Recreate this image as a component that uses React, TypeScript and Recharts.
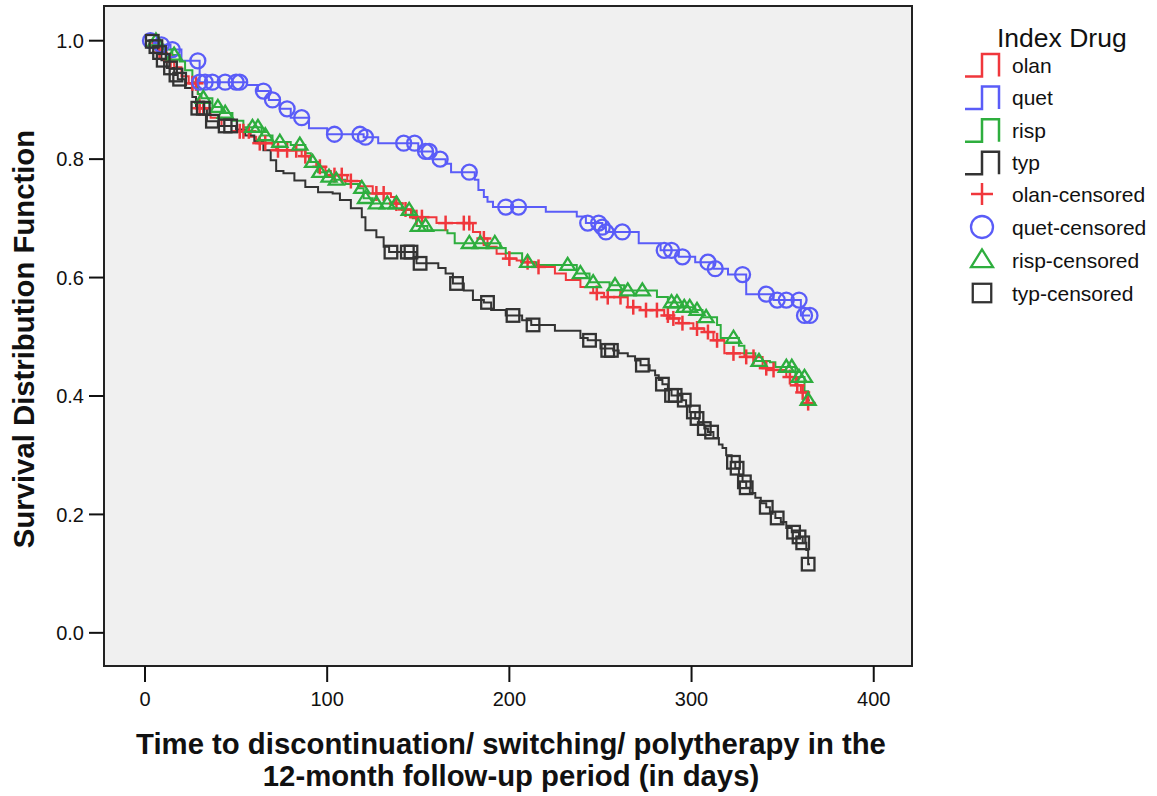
import React from "react";
import {
	ComposedChart,
	Line,
	Scatter,
	XAxis,
	YAxis,
	CartesianGrid,
	ReferenceArea,
	Label,
} from "recharts";

// Kaplan-Meier steps: [days, survival after that day]
const OLAN_STEPS: [number, number][] = [
	[0, 1], [4, 0.99], [8, 0.98], [12, 0.965], [16, 0.955], [20, 0.94], [24, 0.928],
	[29, 0.91], [30, 0.886], [36, 0.87], [42, 0.856], [50, 0.847], [58, 0.838],
	[61, 0.827], [70, 0.82], [72, 0.815], [86, 0.805], [90, 0.795], [94, 0.787],
	[99, 0.78], [102, 0.773], [111, 0.763], [118, 0.754], [125, 0.742], [135, 0.736],
	[137, 0.725], [141, 0.715], [146, 0.702], [160, 0.692], [180, 0.677], [184, 0.666],
	[188, 0.652], [193, 0.64], [198, 0.632], [204, 0.629], [208, 0.626], [214, 0.618],
	[225, 0.607], [231, 0.596], [239, 0.584], [246, 0.574], [252, 0.567], [265, 0.55],
	[272, 0.545], [285, 0.536], [288, 0.531], [293, 0.523], [301, 0.514], [307, 0.508],
	[312, 0.494], [318, 0.472], [329, 0.466], [339, 0.447], [343, 0.444], [352, 0.432],
	[357, 0.418], [360, 0.406], [363, 0.388], [364, 0.388],
];
const OLAN_CENSORED: [number, number][] = [
	[8, 0.98], [14, 0.965], [26, 0.928], [28, 0.928], [30, 0.886], [32, 0.886],
	[52, 0.847], [54, 0.847], [57, 0.847], [63, 0.827], [66, 0.827], [73, 0.815],
	[78, 0.815], [83, 0.815], [88, 0.805], [96, 0.787], [104, 0.773], [108, 0.773],
	[113, 0.763], [127, 0.742], [131, 0.742], [138, 0.725], [143, 0.715], [149, 0.702],
	[152, 0.702], [165, 0.692], [175, 0.692], [178, 0.692], [186, 0.666], [200, 0.632],
	[210, 0.626], [216, 0.618], [248, 0.574], [254, 0.567], [261, 0.567], [268, 0.55],
	[275, 0.545], [281, 0.545], [287, 0.536], [290, 0.531], [295, 0.523], [303, 0.514],
	[309, 0.508], [314, 0.494], [323, 0.472], [330, 0.466], [334, 0.466], [341, 0.447],
	[345, 0.444], [354, 0.432], [358, 0.418], [361, 0.406], [364, 0.388],
];

const QUET_STEPS: [number, number][] = [
	[0, 1], [6, 0.993], [14, 0.985], [20, 0.966], [30, 0.93], [56, 0.925], [62, 0.915],
	[68, 0.9], [74, 0.885], [80, 0.87], [90, 0.852], [100, 0.842], [120, 0.837],
	[128, 0.827], [150, 0.813], [158, 0.8], [165, 0.792], [168, 0.778], [181, 0.765],
	[183, 0.748], [186, 0.736], [188, 0.728], [191, 0.719], [220, 0.711], [237, 0.703],
	[242, 0.692], [251, 0.685], [253, 0.677], [271, 0.658], [283, 0.646], [293, 0.635],
	[302, 0.626], [312, 0.615], [320, 0.605], [330, 0.572], [345, 0.562], [360, 0.536],
	[365, 0.536],
];
const QUET_CENSORED: [number, number][] = [
	[3, 1], [9, 0.993], [15, 0.985], [29, 0.966], [30, 0.93], [33, 0.93], [37, 0.93],
	[44, 0.93], [50, 0.93], [52, 0.93], [65, 0.915], [70, 0.9], [78, 0.885], [86, 0.87],
	[104, 0.842], [118, 0.842], [121, 0.837], [142, 0.827], [148, 0.827], [154, 0.813],
	[156, 0.813], [162, 0.8], [178, 0.778], [198, 0.719], [205, 0.719], [243, 0.692],
	[249, 0.692], [251, 0.685], [253, 0.677], [262, 0.677], [285, 0.646], [289, 0.646],
	[295, 0.635], [309, 0.626], [313, 0.615], [328, 0.605], [341, 0.572], [347, 0.562],
	[352, 0.562], [359, 0.562], [362, 0.536], [365, 0.536],
];

const RISP_STEPS: [number, number][] = [
	[0, 1], [8, 0.99], [10, 0.985], [15, 0.976], [19, 0.965], [22, 0.95], [26, 0.93],
	[29, 0.91], [31, 0.903], [37, 0.888], [42, 0.878], [48, 0.865], [54, 0.854],
	[64, 0.84], [70, 0.829], [80, 0.824], [88, 0.81], [91, 0.795], [95, 0.778],
	[99, 0.77], [104, 0.765], [110, 0.758], [117, 0.751], [120, 0.734], [125, 0.725],
	[141, 0.714], [147, 0.7], [149, 0.687], [155, 0.68], [166, 0.675], [170, 0.658],
	[195, 0.65], [198, 0.641], [207, 0.626], [215, 0.621], [237, 0.607], [244, 0.592],
	[255, 0.587], [263, 0.578], [281, 0.567], [287, 0.558], [295, 0.55], [302, 0.545],
	[306, 0.533], [314, 0.52], [316, 0.498], [326, 0.485], [329, 0.472], [335, 0.459],
	[343, 0.457], [346, 0.449], [357, 0.432], [362, 0.408], [364, 0.393], [365, 0.393],
];
const RISP_CENSORED: [number, number][] = [
	[6, 1], [16, 0.976], [32, 0.903], [40, 0.888], [44, 0.878], [59, 0.854], [62, 0.854],
	[66, 0.84], [74, 0.829], [85, 0.824], [92, 0.795], [96, 0.778], [101, 0.77],
	[105, 0.765], [119, 0.751], [121, 0.734], [127, 0.725], [133, 0.725], [138, 0.725],
	[145, 0.714], [150, 0.687], [154, 0.687], [178, 0.658], [184, 0.658], [192, 0.658],
	[210, 0.626], [232, 0.621], [239, 0.607], [246, 0.592], [258, 0.587], [265, 0.578],
	[273, 0.578], [289, 0.558], [292, 0.558], [296, 0.55], [299, 0.55], [303, 0.545],
	[308, 0.533], [323, 0.498], [337, 0.459], [352, 0.449], [355, 0.449], [359, 0.432],
	[362, 0.432], [364, 0.393],
];

const TYP_STEPS: [number, number][] = [
	[0, 1], [4, 0.999], [5, 0.99], [7, 0.98], [9, 0.967], [12, 0.954], [16, 0.942],
	[18, 0.935], [22, 0.92], [26, 0.905], [28, 0.886], [34, 0.864], [40, 0.856],
	[50, 0.85], [55, 0.84], [60, 0.83], [65, 0.815], [69, 0.798], [72, 0.78], [76, 0.776],
	[82, 0.764], [88, 0.753], [95, 0.744], [103, 0.742], [107, 0.731], [113, 0.717],
	[119, 0.702], [121, 0.68], [127, 0.668], [131, 0.652], [134, 0.643], [149, 0.624],
	[161, 0.616], [165, 0.607], [169, 0.59], [175, 0.578], [180, 0.562], [186, 0.558],
	[190, 0.545], [198, 0.536], [207, 0.528], [212, 0.52], [225, 0.51], [239, 0.498],
	[243, 0.494], [250, 0.48], [257, 0.477], [260, 0.472], [265, 0.467], [269, 0.46],
	[272, 0.452], [277, 0.443], [280, 0.435], [282, 0.427], [284, 0.42], [287, 0.41],
	[289, 0.401], [295, 0.393], [297, 0.383], [299, 0.373], [302, 0.362], [304, 0.352],
	[307, 0.345], [309, 0.339], [312, 0.329], [315, 0.318], [317, 0.312], [319, 0.3],
	[322, 0.288], [324, 0.278], [326, 0.265], [328, 0.255], [330, 0.245], [332, 0.236],
	[335, 0.228], [338, 0.219], [341, 0.212], [343, 0.204], [346, 0.194], [349, 0.187],
	[352, 0.177], [355, 0.17], [359, 0.162], [361, 0.152], [363, 0.14], [364, 0.116],
	[365, 0.116],
];
const TYP_CENSORED: [number, number][] = [
	[4, 0.999], [6, 0.99], [8, 0.98], [10, 0.967], [14, 0.954], [17, 0.942], [19, 0.935],
	[29, 0.886], [32, 0.886], [37, 0.864], [44, 0.856], [47, 0.856], [135, 0.643],
	[144, 0.643], [146, 0.643], [151, 0.624], [171, 0.59], [188, 0.558], [202, 0.536],
	[213, 0.52], [244, 0.494], [254, 0.477], [256, 0.477], [273, 0.452], [284, 0.42],
	[289, 0.401], [291, 0.401], [296, 0.393], [301, 0.373], [303, 0.362], [307, 0.345],
	[311, 0.339], [323, 0.288], [325, 0.278], [329, 0.255], [330, 0.245], [341, 0.212],
	[347, 0.194], [356, 0.17], [359, 0.162], [361, 0.152], [364, 0.116],
];

const X_TICKS = [0, 100, 200, 300, 400];
const Y_TICKS = [0, 0.2, 0.4, 0.6, 0.8, 1.0];
const X_DOMAIN: [number, number] = [-22.5, 421];
const Y_DOMAIN: [number, number] = [-0.056, 1.0586];

const FONT = "'Liberation Sans', Arial, Helvetica, sans-serif";

type MarkerKind = "plus" | "circle" | "triangle" | "square";

const GROUPS: {
	name: string;
	color: string;
	marker: MarkerKind;
	steps: [number, number][];
	censored: [number, number][];
}[] = [
	{ name: "olan", color: "#f0373c", marker: "plus", steps: OLAN_STEPS, censored: OLAN_CENSORED },
	{ name: "quet", color: "#5a5cf8", marker: "circle", steps: QUET_STEPS, censored: QUET_CENSORED },
	{ name: "risp", color: "#2eae3e", marker: "triangle", steps: RISP_STEPS, censored: RISP_CENSORED },
	{ name: "typ", color: "#333333", marker: "square", steps: TYP_STEPS, censored: TYP_CENSORED },
];

const toPoints = (rows: [number, number][]) => rows.map(([t, s]) => ({ t, s }));

function Marker({ kind, cx, cy, color, size }: { kind: MarkerKind; cx: number; cy: number; color: string; size: number }) {
	const h = size / 2;
	if (kind === "plus") {
		return (
			<g stroke={color} strokeWidth={2.5}>
				<line x1={cx - h} y1={cy} x2={cx + h} y2={cy} />
				<line x1={cx} y1={cy - h} x2={cx} y2={cy + h} />
			</g>
		);
	}
	if (kind === "circle") {
		return <circle cx={cx} cy={cy} r={h} fill="none" stroke={color} strokeWidth={2.3} />;
	}
	if (kind === "triangle") {
		const th = size * 0.8;
		return (
			<polygon
				points={`${cx},${cy - th * 0.6} ${cx - h},${cy + th * 0.4} ${cx + h},${cy + th * 0.4}`}
				fill="none"
				stroke={color}
				strokeWidth={2.3}
			/>
		);
	}
	const q = size * 0.42;
	return <rect x={cx - q} y={cy - q} width={q * 2} height={q * 2} fill="none" stroke={color} strokeWidth={2.3} />;
}

function KmLegend() {
	return (
		<svg width={237} height={320} style={{ position: "absolute", left: 920, top: 0, fontFamily: FONT }}>
			<text x={77} y={38} dominantBaseline="central" fontSize={26.5} fill="#111">
				Index Drug
			</text>
			{GROUPS.map((g, i) => {
				const cy = 65 + i * 32.6;
				return (
					<g key={g.name}>
						<polyline
							points={`45,${cy + 11.5} 62,${cy + 11.5} 62,${cy - 11} 79,${cy - 11} 79,${cy + 11.5}`}
							fill="none"
							stroke={g.color}
							strokeWidth={2.5}
						/>
						<text x={92} y={cy} dominantBaseline="central" fontSize={21} fill="#111">
							{g.name}
						</text>
					</g>
				);
			})}
			{GROUPS.map((g, i) => {
				const cy = 194 + i * 33;
				return (
					<g key={g.name + "-c"}>
						<Marker kind={g.marker} cx={62} cy={cy} color={g.color} size={22} />
						<text x={92} y={cy} dominantBaseline="central" fontSize={21} fill="#111">
							{g.name}-censored
						</text>
					</g>
				);
			})}
		</svg>
	);
}

const XTitle = (props: any) => {
	const { x, width } = props.viewBox;
	const cx = x + width / 2 + 3;
	return (
		<text textAnchor="middle" fontSize={29.3} fontWeight="bold" fill="#111" fontFamily={FONT}>
			<tspan x={cx} y={754}>Time to discontinuation/ switching/ polytherapy in the</tspan>
			<tspan x={cx} y={786}>12-month follow-up period (in days)</tspan>
		</text>
	);
};

const YTitle = (props: any) => {
	const { y, height } = props.viewBox;
	const cy = y + height / 2 + 3;
	return (
		<text
			x={34}
			y={cy}
			transform={`rotate(-90, 34, ${cy})`}
			textAnchor="middle"
			fontSize={29.3}
			fontWeight="bold"
			fill="#111"
			fontFamily={FONT}
		>
			Survival Distribution Function
		</text>
	);
};

export default function App() {
	return (
		<div style={{ position: "absolute", left: 0, top: 0, width: 1157, height: 796, background: "#fff", fontFamily: FONT }}>
			<ComposedChart width={1157} height={796} margin={{ top: 6, right: 245, bottom: 90, left: 4 }}>
				<CartesianGrid horizontal={false} vertical={false} fill="#f0f0f0" />
				<XAxis
					type="number"
					dataKey="t"
					domain={X_DOMAIN}
					ticks={X_TICKS}
					allowDataOverflow
					height={40}
					axisLine={false}
					tickSize={16}
					tickMargin={10}
					tickLine={{ stroke: "#111", strokeWidth: 2 }}
					tick={{ fontSize: 20, fill: "#111", fontFamily: FONT }}
				>
					<Label content={XTitle} />
				</XAxis>
				<YAxis
					type="number"
					dataKey="s"
					domain={Y_DOMAIN}
					ticks={Y_TICKS}
					allowDataOverflow
					width={100}
					axisLine={false}
					tickSize={15}
					tickMargin={5}
					tickLine={{ stroke: "#111", strokeWidth: 2 }}
					tickFormatter={(v: number) => v.toFixed(1)}
					tick={{ fontSize: 20, fill: "#111", fontFamily: FONT }}
				>
					<Label content={YTitle} />
				</YAxis>
				{GROUPS.map((g) => (
					<Line
						key={g.name}
						data={toPoints(g.steps)}
						dataKey="s"
						type="stepAfter"
						stroke={g.color}
						strokeWidth={2}
						dot={false}
						activeDot={false}
						isAnimationActive={false}
					/>
				))}
				{GROUPS.map((g) => (
					<Scatter
						key={g.name + "-c"}
						data={toPoints(g.censored)}
						dataKey="s"
						isAnimationActive={false}
						shape={(p: any) => <Marker kind={g.marker} cx={p.cx} cy={p.cy} color={g.color} size={15} />}
					/>
				))}
				<ReferenceArea
					x1={X_DOMAIN[0]}
					x2={X_DOMAIN[1]}
					y1={Y_DOMAIN[0]}
					y2={Y_DOMAIN[1]}
					fill="none"
					stroke="#222"
					strokeWidth={2}
					ifOverflow="visible"
				/>
			</ComposedChart>
			<KmLegend />
		</div>
	);
}
